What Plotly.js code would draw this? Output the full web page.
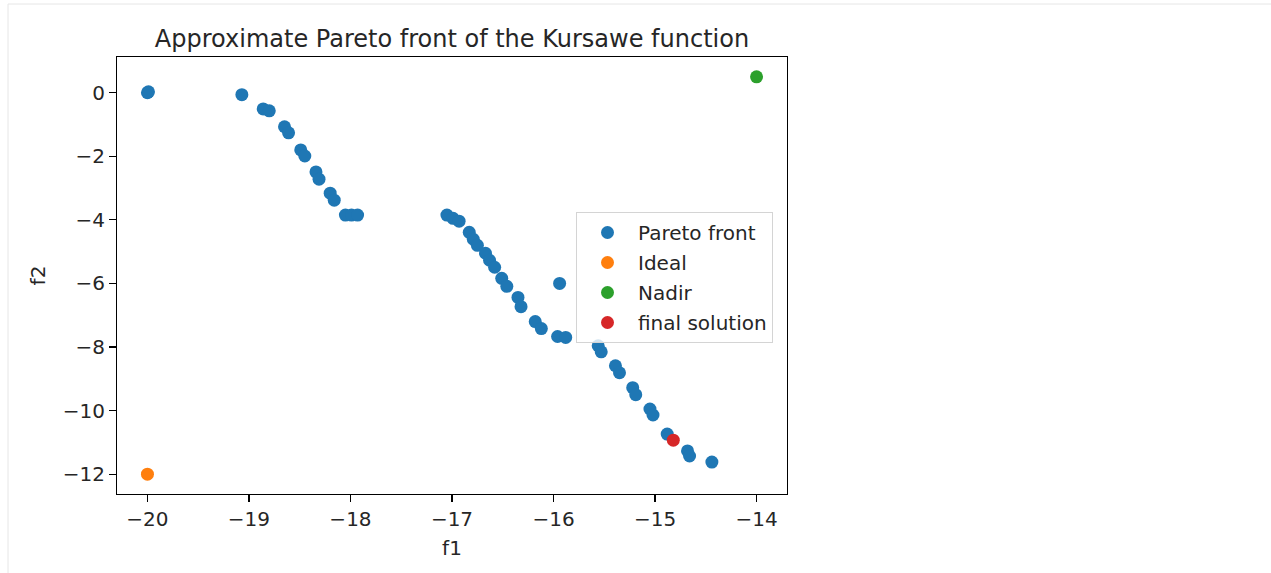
<!DOCTYPE html>
<html>
<head>
<meta charset="utf-8">
<script src="https://cdn.plot.ly/plotly-3.0.1.min.js"></script>
<style>html,body{margin:0;padding:0;background:#fff;}#chart{width:1271px;height:573px;}</style>
</head>
<body>
<div id="chart"></div>
<script>
// Pareto front points (f1, f2)
var paretoF1 = [-20.00, -19.99, -19.07, -18.86, -18.80, -18.65, -18.61, -18.49, -18.45, -18.34, -18.31,
  -18.20, -18.16, -18.05, -17.99, -17.93,
  -17.05, -16.99, -16.93, -16.83, -16.79, -16.75, -16.67, -16.63, -16.58, -16.51, -16.46,
  -16.35, -16.32, -16.18, -16.12, -15.96, -15.88, -15.94,
  -15.56, -15.53, -15.39, -15.35, -15.22, -15.19, -15.05, -15.02, -14.88, -14.68, -14.66, -14.44];
var paretoF2 = [0.00, 0.03, -0.06, -0.51, -0.57, -1.07, -1.26, -1.80, -1.99, -2.49, -2.72,
  -3.16, -3.38, -3.85, -3.85, -3.85,
  -3.85, -3.95, -4.04, -4.39, -4.61, -4.80, -5.05, -5.27, -5.49, -5.84, -6.09,
  -6.44, -6.73, -7.20, -7.42, -7.67, -7.70, -6.00,
  -7.96, -8.15, -8.59, -8.81, -9.28, -9.50, -9.95, -10.14, -10.74, -11.27, -11.43, -11.62];
var idealF1 = [-20.0], idealF2 = [-12.0];
var nadirF1 = [-14.0], nadirF2 = [0.5];
var finalF1 = [-14.82], finalF2 = [-10.93];
var xTicks = [-20, -19, -18, -17, -16, -15, -14];
var yTicks = [0, -2, -4, -6, -8, -10, -12];

var FONT = "DejaVu Sans, sans-serif";
var MS = 13;
function tr(x, y, name, color) {
  return {x: x, y: y, name: name, type: 'scatter', mode: 'markers', legendgroup: name,
    marker: {color: color, size: MS, line: {width: 0}}, hoverinfo: 'x+y'};
}
var data = [
  tr(paretoF1, paretoF2, 'Pareto front', '#1f77b4'),
  tr(idealF1, idealF2, 'Ideal', '#ff7f0e'),
  tr(nadirF1, nadirF2, 'Nadir', '#2ca02c'),
  tr(finalF1, finalF2, 'final solution', '#d62728')
];
var L = 117, R = 787, T = 57, B = 494, W = 1271, H = 573;
var pw = R - L, ph = B - T;
function px(p) { return (p - L) / pw; }
function py(p) { return (B - p) / ph; }
var axisCommon = {
  showgrid: false, zeroline: false, showline: true, mirror: true,
  linecolor: '#000', linewidth: 1.1, ticks: 'outside', ticklen: 7, tickwidth: 1.1,
  tickcolor: '#000', tickfont: {family: FONT, size: 20, color: '#262626'},
  fixedrange: true
};
var layout = {
  width: W, height: H,
  margin: {l: L, r: W - R, t: T, b: H - B, pad: 0},
  paper_bgcolor: '#fff', plot_bgcolor: '#fff',
  font: {family: FONT, color: '#262626'},
  title: {text: 'Approximate Pareto front of the Kursawe function',
    font: {family: FONT, size: 24, color: '#262626'},
    xref: 'paper', x: 0.5, xanchor: 'center', yref: 'container', y: 1 - 39 / H, yanchor: 'middle'},
  xaxis: Object.assign({}, axisCommon, {range: [-20.3, -13.7], tickvals: xTicks,
    title: {text: 'f1', font: {family: FONT, size: 20, color: '#262626'}, standoff: 10}}),
  yaxis: Object.assign({}, axisCommon, {range: [-12.625, 1.125], tickvals: yTicks,
    title: {text: 'f2', font: {family: FONT, size: 20, color: '#262626'}, standoff: 11}}),
  showlegend: true,
  legend: {x: px(576), y: py(212), xanchor: 'left', yanchor: 'top', tracegroupgap: 1,
    bgcolor: 'rgba(255,255,255,0.8)', bordercolor: '#d4d4d4', borderwidth: 1,
    font: {family: FONT, size: 20, color: '#262626'}, itemwidth: 51},
  shapes: [
    {type: 'line', xref: 'paper', yref: 'paper', x0: px(8), x1: px(1271), y0: py(4), y1: py(4),
      line: {color: '#e6e6e6', width: 1}},
    {type: 'line', xref: 'paper', yref: 'paper', x0: px(8), x1: px(8), y0: py(4), y1: py(573),
      line: {color: '#e6e6e6', width: 1}}
  ]
};
Plotly.newPlot('chart', data, layout, {displayModeBar: false, staticPlot: true});
</script>
</body>
</html>
